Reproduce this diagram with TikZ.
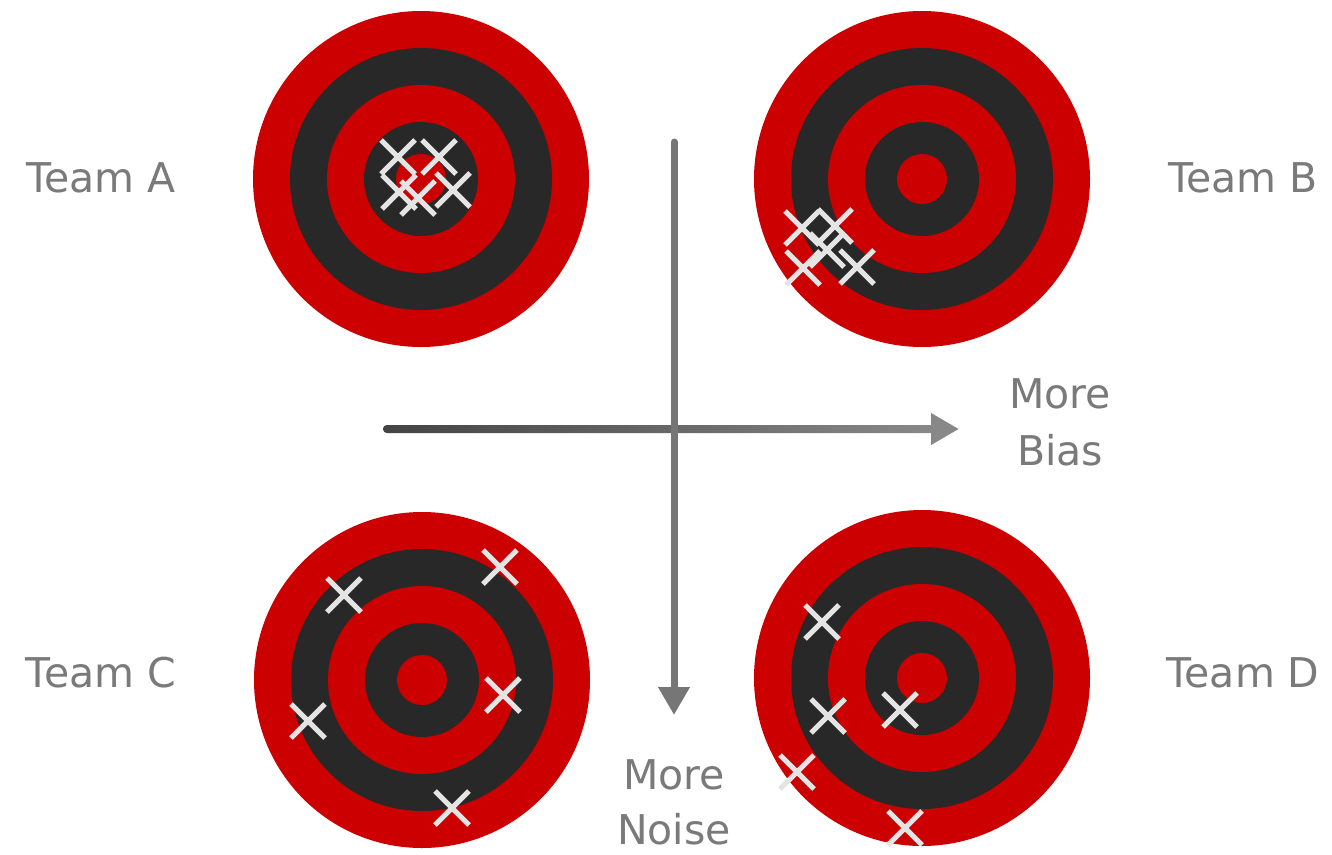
\documentclass[tikz,border=0pt]{standalone}
\usepackage{fontspec}
\setmainfont{DejaVu Sans}
\usetikzlibrary{arrows.meta}
\definecolor{tred}{RGB}{204,0,0}
\definecolor{tdark}{RGB}{40,40,40}
\definecolor{hitc}{RGB}{228,228,228}
\definecolor{lblc}{RGB}{122,122,122}
\definecolor{axisc}{RGB}{118,118,118}
\definecolor{axisl}{RGB}{68,68,68}
\definecolor{axisr}{RGB}{136,136,136}
\begin{document}
\begin{tikzpicture}[x=1pt,y=-1pt,
  target/.pic={
    \fill[tred]  (0,0) circle[radius=168pt];
    \fill[tdark] (0,0) circle[radius=131pt];
    \fill[tred]  (0,0) circle[radius=94pt];
    \fill[tdark] (0,0) circle[radius=57pt];
    \fill[tred]  (0,0) circle[radius=25pt];
  },
  hitline/.style={draw=hitc, line width=5pt, line cap=butt},
  hit/.pic={\draw[hitline] (-17,-17) -- (17,17) (-17,17) -- (17,-17);},
  lbl/.style={text=lblc, inner sep=0pt, font=\fontsize{41}{57}\selectfont},
  axis/.style={line width=8pt, line cap=round, -{Triangle[length=28pt,width=30pt]}}
]
\useasboundingbox (0,0) rectangle (1332,854);
\fill[white] (0,0) rectangle (1332,854);

% targets
\coordinate (tA) at (421,179);
\coordinate (tB) at (922,179);
\coordinate (tC) at (422,680);
\coordinate (tD) at (922,678);
\pic at (tA) {target};
\pic at (tB) {target};
\pic at (tC) {target};
\pic at (tD) {target};

% hits Team A
\pic at (398,157) {hit};
\pic at (439,157) {hit};
\pic at (399,192) {hit};
\pic at (418,198) {hit};
\pic at (453,190) {hit};
% hits Team B
\pic at (802,228) {hit};
\pic at (835,226) {hit};
\pic at (827,250) {hit};
\pic at (803,268) {hit};
\pic at (857,267) {hit};
% hits Team C
\pic at (344,595) {hit};
\pic at (500,567) {hit};
\pic at (503,695) {hit};
\pic at (308,721) {hit};
\pic at (452,808) {hit};
% hits Team D
\pic at (822,622) {hit};
\pic at (828,716) {hit};
\pic at (900,710) {hit};
\pic at (797,772) {hit};
\pic at (905,828) {hit};

% labels
\node[lbl, anchor=base] (la) at (101,192) {Team A};
\node[lbl, anchor=base] (lb) at (1243,192) {Team B};
\node[lbl, anchor=base] (lc) at (101,687) {Team C};
\node[lbl, anchor=base] (ld) at (1243,687) {Team D};
\node[lbl, anchor=north, align=center] (bias) at (1060,378) {More\\Bias};
\node[lbl, anchor=north, align=center, font=\fontsize{41}{55}\selectfont] (noise) at (674,759) {More\\Noise};

% axes
\coordinate (hs) at (387,429);
\coordinate (he) at (959,429);
\coordinate (hb) at (933,429);
\coordinate (vs) at (674,142);
\coordinate (ve) at (674,715);
\draw[axis, draw=axisr, fill=axisr] (hs) -- (he);
\shade[left color=axisl, right color=axisr, rounded corners=4pt]
  ([shift={(-4,-4)}]hs) rectangle ([shift={(0,4)}]hb);
\draw[axis, line width=7pt, draw=axisc, fill=axisc] (vs) -- (ve);
\end{tikzpicture}
\end{document}
